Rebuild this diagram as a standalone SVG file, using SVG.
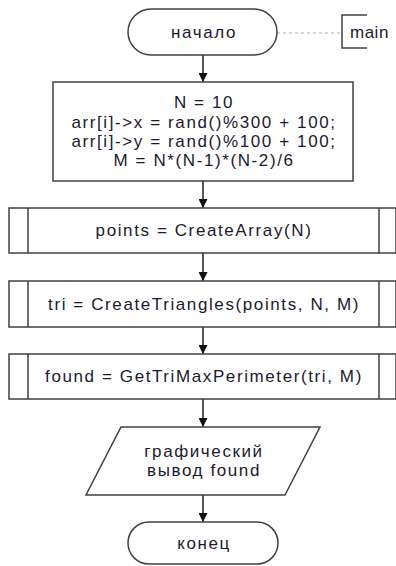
<svg xmlns="http://www.w3.org/2000/svg" width="396" height="566" viewBox="0 0 396 566">
<style>
.s{fill:#fff;stroke:#404040;stroke-width:1.5}
.t{font-family:"Liberation Sans",Arial,sans-serif;font-size:17px;letter-spacing:1.6px;fill:#1a1a2e;text-anchor:middle}
.c{stroke:#202020;stroke-width:1.5;fill:none}
</style>
<defs>
<marker id="a" viewBox="0 0 10 10" refX="10" refY="5" markerWidth="9" markerHeight="9" markerUnits="userSpaceOnUse" orient="auto">
<path d="M0,0L10,5L0,10z" fill="#111"/>
</marker>
</defs>
<rect width="396" height="566" fill="#fff"/>
<g id="connectors">
<line class="c" x1="203" y1="55" x2="203" y2="82" marker-end="url(#a)"/>
<line class="c" x1="203" y1="181" x2="203" y2="208" marker-end="url(#a)"/>
<line class="c" x1="203" y1="253" x2="203" y2="281" marker-end="url(#a)"/>
<line class="c" x1="203" y1="327" x2="203" y2="354" marker-end="url(#a)"/>
<line class="c" x1="203" y1="399" x2="203" y2="427" marker-end="url(#a)"/>
<line class="c" x1="203" y1="495" x2="203" y2="522" marker-end="url(#a)"/>
<line x1="277" y1="33" x2="342" y2="33" stroke="#b0b0b0" stroke-width="1" stroke-dasharray="3,3"/>
</g>
<g id="start">
<rect class="s" x="128" y="9" width="149" height="46" rx="23" ry="23"/>
<text class="t" x="204" y="38">начало</text>
</g>
<g id="main-label">
<path d="M367,15H342V48H367" fill="none" stroke="#404040" stroke-width="1.5"/>
<text class="t" x="350" y="38" style="text-anchor:start;letter-spacing:0.5px">main</text>
</g>
<g id="init">
<rect class="s" x="53" y="82" width="300" height="99"/>
<text class="t" x="204" y="108">N = 10</text>
<text class="t" x="204" y="128">arr[i]-&gt;x = rand()%300 + 100;</text>
<text class="t" x="204" y="147">arr[i]-&gt;y = rand()%100 + 100;</text>
<text class="t" x="204" y="166">M = N*(N-1)*(N-2)/6</text>
</g>
<g id="create-array">
<rect class="s" x="9" y="208" width="387" height="45"/>
<line class="s" x1="28" y1="208" x2="28" y2="253"/>
<line class="s" x1="379" y1="208" x2="379" y2="253"/>
<text class="t" x="204" y="236">points = CreateArray(N)</text>
</g>
<g id="create-triangles">
<rect class="s" x="9" y="281" width="387" height="46"/>
<line class="s" x1="28" y1="281" x2="28" y2="327"/>
<line class="s" x1="379" y1="281" x2="379" y2="327"/>
<text class="t" x="204" y="310">tri = CreateTriangles(points, N, M)</text>
</g>
<g id="get-max">
<rect class="s" x="9" y="354" width="387" height="45"/>
<line class="s" x1="28" y1="354" x2="28" y2="399"/>
<line class="s" x1="379" y1="354" x2="379" y2="399"/>
<text class="t" x="204" y="382">found = GetTriMaxPerimeter(tri, M)</text>
</g>
<g id="output">
<polygon class="s" points="121,427 320,427 285,495 86,495"/>
<text class="t" x="204" y="457">графический</text>
<text class="t" x="204" y="476">вывод found</text>
</g>
<g id="end">
<rect class="s" x="128" y="522" width="150" height="42" rx="21" ry="21"/>
<text class="t" x="204" y="549">конец</text>
</g>
</svg>
